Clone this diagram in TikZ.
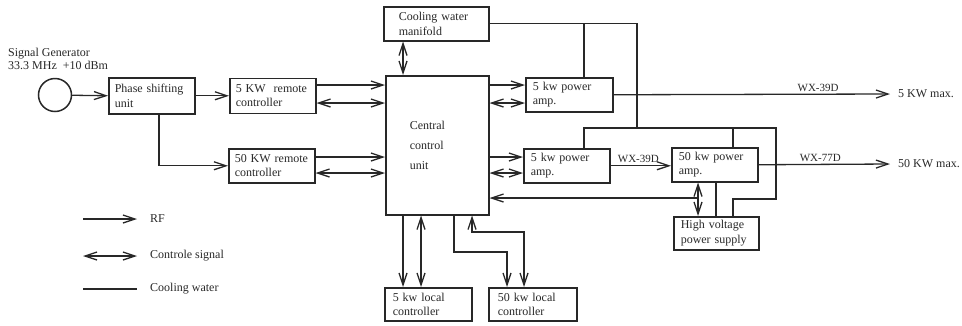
\documentclass[tikz,border=0pt]{standalone}
\usepackage{fontspec}
\setmainfont{Liberation Serif}
\usetikzlibrary{arrows.meta}
\definecolor{ink}{RGB}{40,40,40}
\begin{document}
\begin{tikzpicture}[x=1pt,y=-1pt,
  txt/.style={font=\fontsize{12}{14.5}\selectfont, text=ink},
  box/.style={txt, draw=ink, line width=1.5pt, align=left, anchor=north west, inner ysep=0pt, inner xsep=6pt},
  wire/.style={draw=ink, line width=1.3pt},
  barb/.tip={Straight Barb[length=12pt,width=8pt]},
  rf/.style={wire, -barb},
  ctl/.style={wire, barb-barb},
  cw/.style={wire},
  wxlabel/.style={font=\fontsize{11}{13}\selectfont, text=ink, above, inner sep=2pt},
  legendtext/.style={txt, anchor=west, inner xsep=13pt},
  outtext/.style={txt, anchor=west, inner xsep=8pt}
]
\useasboundingbox (0,0) rectangle (962,325);

% levels and verticals
\coordinate (h85) at (0,85);
\coordinate (h103) at (0,103);
\coordinate (h128) at (0,128);
\coordinate (h157) at (0,157);
\coordinate (h173) at (0,173);
\coordinate (h199) at (0,199);
\coordinate (h232) at (0,232);
\coordinate (h252) at (0,252);
\coordinate (v159) at (159,0);
\coordinate (v403) at (403,0);
\coordinate (v421) at (421,0);
\coordinate (v454) at (454,0);
\coordinate (v472) at (472,0);
\coordinate (v507) at (507,0);
\coordinate (v524) at (524,0);
\coordinate (v584) at (584,0);
\coordinate (v637) at (637,0);
\coordinate (v698) at (698,0);
\coordinate (v716) at (716,0);
\coordinate (v733) at (733,0);
\coordinate (v776) at (776,0);

% nodes
\node[txt, align=left, anchor=west, inner sep=3pt, font=\fontsize{12}{13}\selectfont] (sg) at (5,58.5) {Signal Generator\\33.3 MHz\ \ +10 dBm};
\node[draw=ink, line width=1.5pt, circle, minimum size=33pt, inner sep=0pt] (gen) at (55,95) {};
\node[box, minimum width=86pt, minimum height=36pt, text width=74pt] (phase) at (108,77) {Phase shifting\\unit};
\node[box, minimum width=86pt, minimum height=35pt, text width=74pt] (r5) at (229,77.5) {5 KW\ \ remote\\controller};
\node[box, minimum width=86pt, minimum height=34pt, text width=74pt] (r50) at (228,148) {50 KW remote\\controller};
\node[box, minimum width=105pt, minimum height=34pt, text width=75pt, inner xsep=15pt] (man) at (383,6) {Cooling water\\manifold};
\node[box, minimum width=103pt, minimum height=139pt, text width=55pt, inner xsep=24pt, font=\fontsize{12}{20}\selectfont] (cen) at (385,75) {Central\\control\\unit};
\node[box, minimum width=87pt, minimum height=34pt, text width=73pt, inner xsep=7pt] (a5u) at (525,77) {5 kw power\\amp.};
\node[box, minimum width=86pt, minimum height=34pt, text width=72pt, inner xsep=7pt] (a5l) at (523,148) {5 kw power\\amp.};
\node[box, minimum width=86pt, minimum height=34pt, text width=72pt, inner xsep=7pt] (a50) at (671,147) {50 kw power\\amp.};
\node[box, minimum width=85pt, minimum height=33pt, text width=71pt, inner xsep=7pt] (hv) at (673,216) {High voltage\\power supply};
\node[box, minimum width=87pt, minimum height=33pt, text width=71pt, inner xsep=8pt] (l5) at (384,287) {5 kw local\\controller};
\node[box, minimum width=88pt, minimum height=33pt, text width=70pt, inner xsep=9pt] (l50) at (488,287) {50 kw local\\controller};
\node[outtext] (o5) at (890,94) {5 KW max.};
\node[outtext] (o50) at (890,164) {50 KW max.};
\coordinate (j698) at (698,198);

% RF
\draw[rf] (gen) -- (phase.west);
\draw[rf] (phase.east) -- (phase.east -| r5.west);
\draw[rf] (phase.south -| v159) |- (r50.west);
\draw[rf] (r5.east |- h85) -- (cen.west |- h85);
\draw[rf] (r50.east |- h157) -- (cen.west |- h157);
\draw[rf] (cen.east |- h85) -- (a5u.west |- h85);
\draw[rf] (cen.east |- h157) -- (a5l.west |- h157);
\draw[rf] (a5l.east) -- (a5l.east -| a50.west) node[wxlabel, pos=0.46] {WX-39D};
\draw[rf] (a5u.east) -- (o5.west) node[wxlabel, pos=0.74] {WX-39D};
\draw[rf] (a50.east) -- (o50.west) node[wxlabel, pos=0.47] {WX-77D};
\draw[rf] (j698) -- (cen.east |- j698);
\draw[rf] (cen.south -| v403) -- (l5.north -| v403);
\draw[rf] (cen.south -| v454) -- (v454 |- h252) -- (v507 |- h252) -- (l50.north -| v507);

% control
\draw[ctl] (r5.east |- h103) -- (cen.west |- h103);
\draw[ctl] (r50.east |- h173) -- (cen.west |- h173);
\draw[ctl] (man.south -| v403) -- (cen.north -| v403);
\draw[ctl] (cen.east |- h103) -- (a5u.west |- h103);
\draw[ctl] (cen.east |- h173) -- (a5l.west |- h173);
\draw[ctl] (a50.south -| v698) -- (hv.north -| v698);
\draw[ctl] (cen.south -| v421) -- (l5.north -| v421);
\draw[ctl] (cen.south -| v472) -- (v472 |- h232) -- (v524 |- h232) -- (l50.north -| v524);

% cooling water
\draw[cw] (man.east) -- (v637 |- man.east) -- (v637 |- h128);
\draw[cw] (a5u.north -| v584) -- (v584 |- man.east);
\draw[cw] (a5l.north -| v584) -- (v584 |- h128) -- (v776 |- h128) -- (v776 |- h199) -- (v733 |- h199) -- (hv.north -| v733);
\draw[cw] (a50.north -| v733) -- (v733 |- h128);
\draw[cw] (a50.south -| v716) -- (hv.north -| v716);

% legend
\node[legendtext] (lrf) at (137,219) {RF};
\node[legendtext] (lctl) at (137,256) {Controle signal};
\node[legendtext] (lcw) at (137,289) {Cooling water};
\coordinate (lg1) at (83,219);
\coordinate (lg2) at (83,256);
\coordinate (lg3) at (83,289);
\draw[rf] (lg1) -- (lrf.west);
\draw[ctl] (lg2) -- (lctl.west);
\draw[cw] (lg3) -- (lcw.west);
\end{tikzpicture}
\end{document}
